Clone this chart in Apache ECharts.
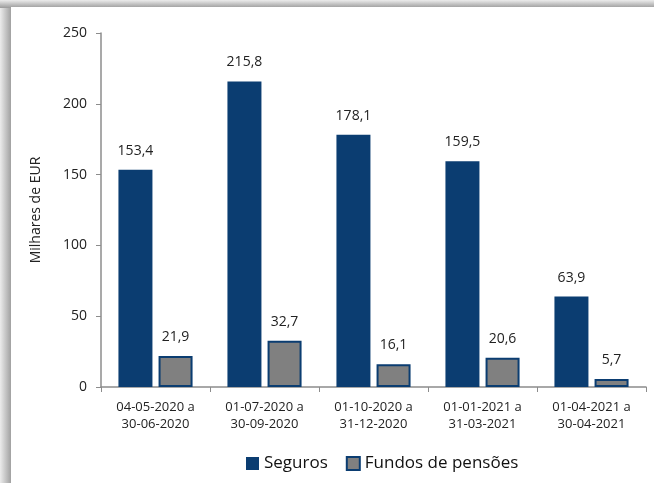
<!DOCTYPE html>
<html>
<head>
<meta charset="utf-8">
<script src="https://cdn.jsdelivr.net/npm/echarts@6/dist/echarts.min.js"></script>
<style>
  html, body { margin: 0; padding: 0; background: #fff; }
  #main { width: 654px; height: 483px; }
</style>
</head>
<body>
<div id="main"></div>
<script>
// dados do gráfico
var periodos = ['04-05-2020 a\n30-06-2020', '01-07-2020 a\n30-09-2020', '01-10-2020 a\n31-12-2020',
                '01-01-2021 a\n31-03-2021', '01-04-2021 a\n30-04-2021'];
var seguros = [153.4, 215.8, 178.1, 159.5, 63.9];
var fundos = [21.9, 32.7, 16.1, 20.6, 5.7];
var yTicks = [0, 50, 100, 150, 200, 250];

var azul = '#0b3d71';
var cinza = '#808080';
var fonte = '"Open Sans", "Noto Sans", sans-serif';

var myChart = echarts.init(document.getElementById('main'));

function fmt(p) {
    return p.value.toFixed(1).replace('.', ',');
}

var option = {
    animation: false,
    textStyle: { fontFamily: fonte },
    graphic: [
        {
            type: 'rect', left: 0, top: 0, z: -10,
            shape: { width: 12, height: 483 },
            style: { fill: new echarts.graphic.LinearGradient(0, 0, 1, 0, [
                { offset: 0, color: '#ececec' }, { offset: 1, color: '#9a9a9a' }]) }
        },
        {
            type: 'rect', left: 0, top: 0, z: -10,
            shape: { width: 654, height: 8 },
            style: { fill: new echarts.graphic.LinearGradient(0, 0, 0, 1, [
                { offset: 0, color: '#ececec' }, { offset: 1, color: '#9a9a9a' }]) }
        },
        {
            type: 'rect', left: 11, top: 7, z: -9,
            shape: { width: 643, height: 476 },
            style: { fill: '#fff' }
        }
    ],
    grid: { left: 101, right: 8, top: 33, bottom: 96 },
    legend: {
        bottom: 6,
        left: 241,
        icon: 'rect',
        itemWidth: 13,
        itemHeight: 13,
        itemGap: 18,
        textStyle: { fontSize: 17, color: '#111', fontFamily: fonte },
        data: [
            { name: 'Seguros', itemStyle: { color: azul } },
            { name: 'Fundos de pensões', itemStyle: { color: cinza, borderColor: azul, borderWidth: 2 } }
        ]
    },
    xAxis: {
        type: 'category',
        data: periodos,
        axisLine: { lineStyle: { color: '#8c8c8c', width: 1.5 } },
        axisTick: { show: true, length: 5, alignWithLabel: false, lineStyle: { color: '#8c8c8c' } },
        axisLabel: { color: '#222', fontSize: 13, lineHeight: 17, margin: 12, interval: 0 }
    },
    yAxis: {
        type: 'value',
        min: 0,
        max: 250,
        interval: 50,
        name: 'Milhares de EUR',
        nameLocation: 'middle',
        nameRotate: 90,
        nameGap: 58,
        nameTextStyle: { fontSize: 14, color: '#222' },
        axisLine: { show: true, lineStyle: { color: '#8c8c8c', width: 1.5 } },
        axisTick: { show: true, length: 5, lineStyle: { color: '#8c8c8c' } },
        axisLabel: { color: '#222', fontSize: 14, margin: 14,
            formatter: function (v) { return yTicks.indexOf(v) >= 0 ? String(v) : ''; } },
        splitLine: { show: false }
    },
    series: [
        {
            name: 'Seguros',
            type: 'bar',
            data: seguros,
            barWidth: 34,
            barGap: '18%',
            itemStyle: { color: azul },
            label: { show: true, position: 'top', distance: 12, fontSize: 14, color: '#222', formatter: fmt }
        },
        {
            name: 'Fundos de pensões',
            type: 'bar',
            data: fundos,
            barWidth: 34,
            barGap: '18%',
            itemStyle: { color: cinza, borderColor: azul, borderWidth: 2 },
            label: { show: true, position: 'top', distance: 12, fontSize: 14, color: '#222', formatter: fmt }
        }
    ]
};

myChart.setOption(option);
</script>
</body>
</html>
